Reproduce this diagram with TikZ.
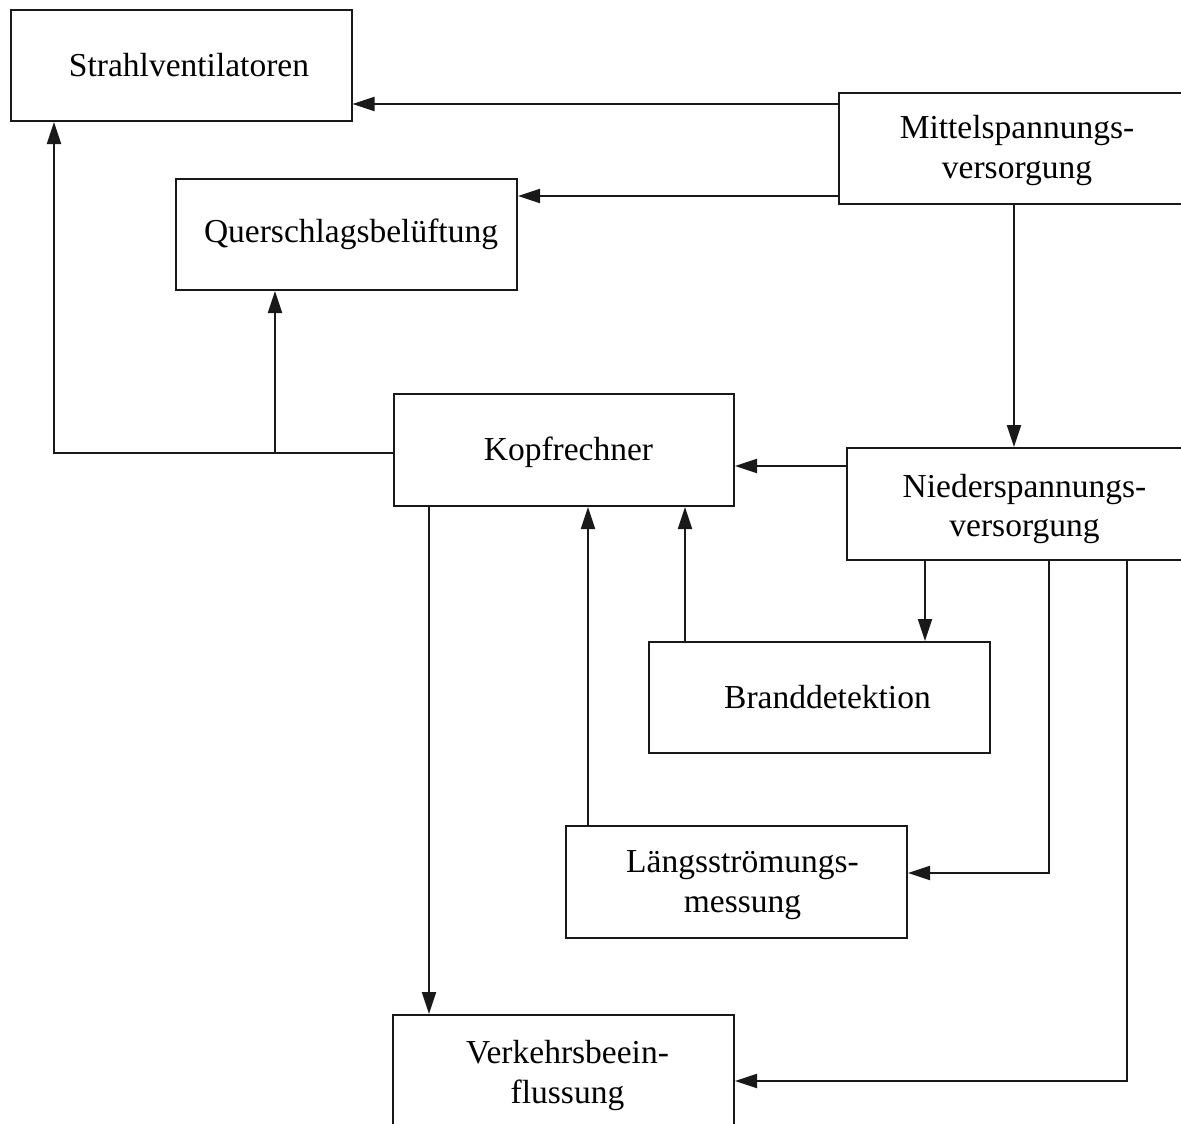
\documentclass[tikz,border=0pt]{standalone}
\usepackage{fontspec}
\setmainfont{Liberation Serif}
\usetikzlibrary{arrows.meta,calc}
\begin{document}
\begin{tikzpicture}[x=1pt,y=-1pt,
  box/.style={draw=black!90, line width=2pt, minimum width=341pt, minimum height=111pt, inner sep=0pt},
  lbl/.style={inner sep=0pt, align=center, font=\fontsize{33.5}{39.5}\selectfont},
  arr/.style={draw=black!90, line width=2pt, -{Triangle[length=22pt,width=14pt]}}]
\useasboundingbox (0,0) rectangle (1181,1124);
\clip (0,0) rectangle (1181,1124);
\node[box] (strahl) at (181,65.5) {};
\node[box, minimum width=344pt] (mittel) at (1011,148.5) {};
\node[box] (quer) at (346.5,234.5) {};
\node[box, minimum width=340pt, minimum height=112pt] (kopf) at (564,450) {};
\node[box, minimum width=337pt, minimum height=112pt] (nieder) at (1015.5,504) {};
\node[box] (brand) at (819.5,697.5) {};
\node[box, minimum height=112pt] (laengs) at (736.5,882) {};
\node[box, minimum height=111pt] (verkehr) at (563.5,1070.5) {};
\node[lbl] (strahl-t) at ($(strahl)+(8,0)$) {Strahlventilatoren};
\node[lbl] (mittel-t) at ($(mittel)+(6,2)$) {Mittelspannungs-\\versorgung};
\node[lbl] (quer-t) at ($(quer)+(4.5,0)$) {Querschlagsbelüftung};
\node[lbl] (kopf-t) at ($(kopf)+(4.5,2)$) {Kopfrechner};
\node[lbl] (nieder-t) at ($(nieder)+(9,5)$) {Niederspannungs-\\versorgung};
\node[lbl] (brand-t) at ($(brand)+(8,0)$) {Branddetektion};
\node[lbl] (laengs-t) at ($(laengs)+(6,3)$) {Längsströmungs-\\messung};
\node[lbl] (verkehr-t) at ($(verkehr)+(4,5)$) {Verkehrsbeein-\\flussung};
\coordinate (j1) at (275,453);
\draw[arr] (mittel.west |- 0,104) -- (strahl.east |- 0,104);
\draw[arr] (mittel.west |- 0,196) -- (quer.east |- 0,196);
\draw[arr] (mittel.south -| 1014,0) -- (nieder.north -| 1014,0);
\draw[arr] (kopf.west |- 0,453) -| (strahl.south -| 54,0);
\draw[arr] (j1) -- (quer.south -| j1);
\draw[arr] (nieder.west |- 0,466) -- (kopf.east |- 0,466);
\draw[arr] (nieder.south -| 925,0) -- (brand.north -| 925,0);
\draw[arr] (brand.north -| 685,0) -- (kopf.south -| 685,0);
\draw[arr] (laengs.north -| 588,0) -- (kopf.south -| 588,0);
\draw[arr] (nieder.south -| 1049,0) |- (laengs.east |- 0,873);
\draw[arr] (nieder.south -| 1127,0) |- (verkehr.east |- 0,1081);
\draw[arr] (kopf.south -| 429,0) -- (verkehr.north -| 429,0);
\end{tikzpicture}
\end{document}
